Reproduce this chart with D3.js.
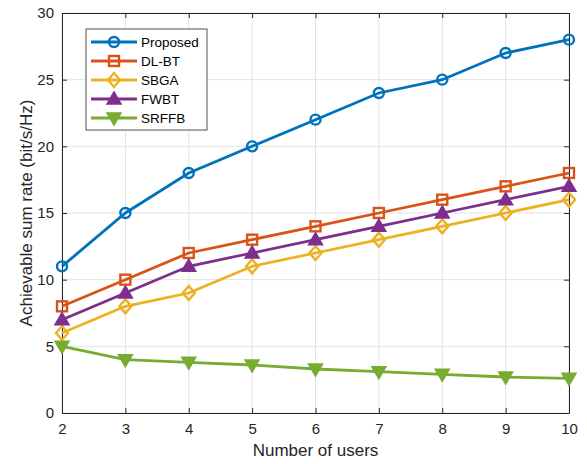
<!DOCTYPE html>
<html>
<head>
<meta charset="utf-8">
<script src="https://cdn.jsdelivr.net/npm/d3@7"></script>
<style>
  body { margin: 0; background: #fff; }
  svg { font-family: "Liberation Sans", Arial, sans-serif; }
</style>
</head>
<body>
<div id="chart"></div>
<script>
const users = [2, 3, 4, 5, 6, 7, 8, 9, 10];
const proposed = [11, 15, 18, 20, 22, 24, 25, 27, 28];
const dlbt = [8, 10, 12, 13, 14, 15, 16, 17, 18];
const sbga = [6, 8, 9, 11, 12, 13, 14, 15, 16];
const fwbt = [7, 9, 11, 12, 13, 14, 15, 16, 17];
const srffb = [5, 4, 3.8, 3.6, 3.3, 3.1, 2.9, 2.7, 2.6];
const yTicks = [0, 5, 10, 15, 20, 25, 30];

const series = [
  { name: 'Proposed', values: proposed, color: '#0072BD', marker: 'circle' },
  { name: 'DL-BT', values: dlbt, color: '#D95319', marker: 'square' },
  { name: 'SBGA', values: sbga, color: '#EDB120', marker: 'diamond' },
  { name: 'FWBT', values: fwbt, color: '#7E2F8E', marker: 'up' },
  { name: 'SRFFB', values: srffb, color: '#77AC30', marker: 'down' },
];

const width = 587, height = 464;
const margin = { top: 13, right: 18, bottom: 51, left: 62 };
const w = width - margin.left - margin.right;
const h = height - margin.top - margin.bottom;

const svg = d3.select('#chart').append('svg')
  .attr('width', width).attr('height', height);
const g = svg.append('g').attr('transform', `translate(${margin.left},${margin.top})`);

const x = d3.scaleLinear().domain([2, 10]).range([0, w]);
const y = d3.scaleLinear().domain([0, 30]).range([h, 0]);

// grid
g.append('g').selectAll('line').data(users).enter().append('line')
  .attr('x1', d => x(d)).attr('x2', d => x(d)).attr('y1', 0).attr('y2', h)
  .attr('stroke', '#e3e3e3').attr('stroke-width', 1);
g.append('g').selectAll('line').data(yTicks).enter().append('line')
  .attr('y1', d => y(d)).attr('y2', d => y(d)).attr('x1', 0).attr('x2', w)
  .attr('stroke', '#e3e3e3').attr('stroke-width', 1);

// axes (ticks inward, box)
const tickStyle = sel => {
  sel.selectAll('.domain').attr('stroke', '#262626');
  sel.selectAll('.tick line').attr('stroke', '#262626');
  sel.selectAll('.tick text').attr('fill', '#262626').style('font-size', '15px');
};
g.append('g').attr('transform', `translate(0,${h})`)
  .call(d3.axisBottom(x).tickValues(users).tickFormat(d3.format('d')).tickSizeInner(-5).tickSizeOuter(0).tickPadding(10))
  .call(tickStyle);
g.append('g')
  .call(d3.axisTop(x).tickValues(users).tickFormat('').tickSizeInner(-5).tickSizeOuter(0))
  .call(tickStyle);
g.append('g')
  .call(d3.axisLeft(y).tickValues(yTicks).tickSizeInner(-5).tickSizeOuter(0).tickPadding(8))
  .call(tickStyle);
g.append('g').attr('transform', `translate(${w},0)`)
  .call(d3.axisRight(y).tickValues(yTicks).tickFormat('').tickSizeInner(-5).tickSizeOuter(0))
  .call(tickStyle);

// labels
svg.append('text').attr('x', margin.left + w / 2).attr('y', 456)
  .attr('text-anchor', 'middle').attr('fill', '#262626').style('font-size', '17px')
  .text('Number of users');
svg.append('text').attr('transform', `translate(32,${margin.top + h / 2}) rotate(-90)`)
  .attr('text-anchor', 'middle').attr('fill', '#262626').style('font-size', '17px')
  .text('Achievable sum rate (bit/s/Hz)');

function drawMarker(sel, type, color) {
  if (type === 'circle') {
    sel.append('circle').attr('r', 5).attr('fill', 'none').attr('stroke', color).attr('stroke-width', 2.4);
  } else if (type === 'square') {
    sel.append('rect').attr('x', -5).attr('y', -5).attr('width', 10).attr('height', 10)
      .attr('fill', 'none').attr('stroke', color).attr('stroke-width', 2.4);
  } else if (type === 'diamond') {
    sel.append('path').attr('d', 'M0,-7L6,0L0,7L-6,0Z')
      .attr('fill', 'none').attr('stroke', color).attr('stroke-width', 2.4);
  } else if (type === 'up') {
    sel.append('path').attr('d', 'M0,-7L7,5L-7,5Z')
      .attr('fill', color).attr('stroke', color).attr('stroke-width', 1.5);
  } else {
    sel.append('path').attr('d', 'M0,7L7,-5L-7,-5Z')
      .attr('fill', color).attr('stroke', color).attr('stroke-width', 1.5);
  }
}

const line = d3.line().x((d, i) => x(users[i])).y(d => y(d));

series.forEach(s => {
  g.append('path').datum(s.values).attr('d', line)
    .attr('fill', 'none').attr('stroke', s.color).attr('stroke-width', 2.8);
  s.values.forEach((v, i) => {
    const m = g.append('g').attr('transform', `translate(${x(users[i])},${y(v)})`);
    drawMarker(m, s.marker, s.color);
  });
});

// legend
const lg = svg.append('g').attr('transform', 'translate(86,29)');
lg.append('rect').attr('width', 121).attr('height', 101)
  .attr('fill', '#fff').attr('stroke', '#262626').attr('stroke-width', 0.8);
series.forEach((s, i) => {
  const row = lg.append('g').attr('transform', `translate(0,${13 + i * 19})`);
  row.append('line').attr('x1', 5).attr('x2', 51).attr('y1', 0).attr('y2', 0)
    .attr('stroke', s.color).attr('stroke-width', 2.8);
  const m = row.append('g').attr('transform', 'translate(28,0)');
  drawMarker(m, s.marker, s.color);
  row.append('text').attr('x', 55).attr('y', 5).attr('fill', '#000')
    .style('font-size', '13.5px').text(s.name);
});
</script>
</body>
</html>
